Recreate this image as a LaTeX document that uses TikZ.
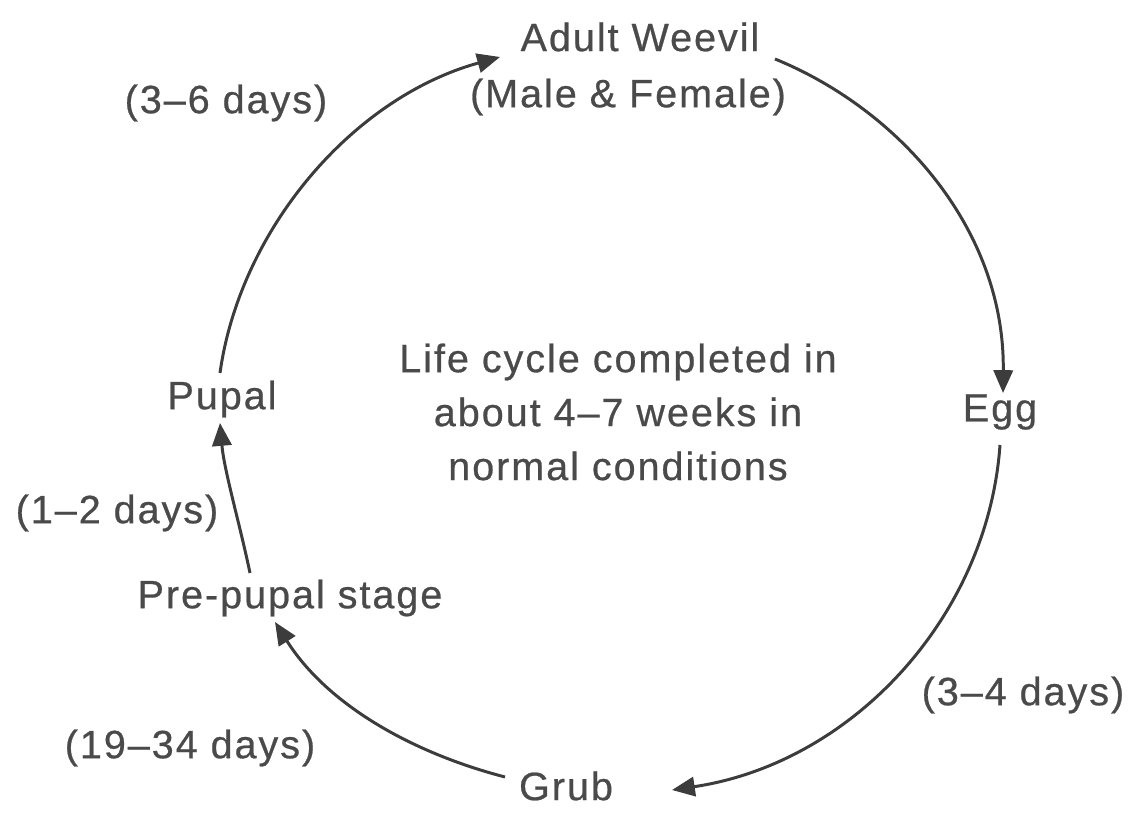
\documentclass[tikz,border=0pt]{standalone}
\usepackage{fontspec}
\newfontfamily\lab{Liberation Sans}[LetterSpace=5,FakeBold=0.6]
\usetikzlibrary{arrows.meta,calc}
\definecolor{txt}{HTML}{4A4A4A}
\definecolor{ln}{HTML}{3C3C3C}
\tikzset{
  lbl/.style={font=\lab\fontsize{22.5pt}{30.7pt}\selectfont, text=txt, inner sep=0pt, align=center},
  cyc/.style={draw=ln, line width=1.7pt, -{Triangle[length=13pt,width=11pt]}},
}
\begin{document}
\begin{tikzpicture}[x=0.02cm,y=-0.02cm]
\useasboundingbox (0,0) rectangle (1137,827);
\node[lbl] (adultA) at (640,37) {Adult Weevil};
\node[lbl] (adultB) at (628,97) {(Male \& Female)};
\node[lbl] (d36) at (226,103) {(3–6 days)};
\node[lbl] (pupal) at (222,399) {Pupal};
\node[lbl] (life) at (618,412) {Life cycle completed in\\about 4–7 weeks in\\normal conditions};
\node[lbl] (egg) at (1000,412) {Egg};
\node[lbl] (d12) at (117,513) {(1–2 days)};
\node[lbl] (prepupal) at (290,598) {Pre-pupal stage};
\node[lbl] (d34) at (1023,695) {(3–4 days)};
\node[lbl] (d1934) at (190,748) {(19–34 days)};
\node[lbl] (grub) at (566,786) {Grub};
% connectors
\draw[cyc] ($(pupal.center)+(-2,-26)$) .. controls (240,230) and (352,98) .. ($(adultA.center)+(-140,20)$);
\draw[cyc] ($(adultA.center)+(135,22)$) .. controls (900,110) and (1005,230) .. ($(egg.center)+(3,-19)$);
\draw[cyc] ($(egg.center)+(0,33)$) .. controls (988,616) and (853,763) .. ($(grub.center)+(106,4)$);
\draw[cyc] ($(grub.center)+(-61,-9)$) .. controls (409,752) and (326,703) .. ($(prepupal.center)+(-15,24)$);
\draw[cyc] ($(prepupal.center)+(-40,-25)$) .. controls (240,525) and (224,470) .. ($(pupal.center)+(-2,24)$);
\end{tikzpicture}
\end{document}
